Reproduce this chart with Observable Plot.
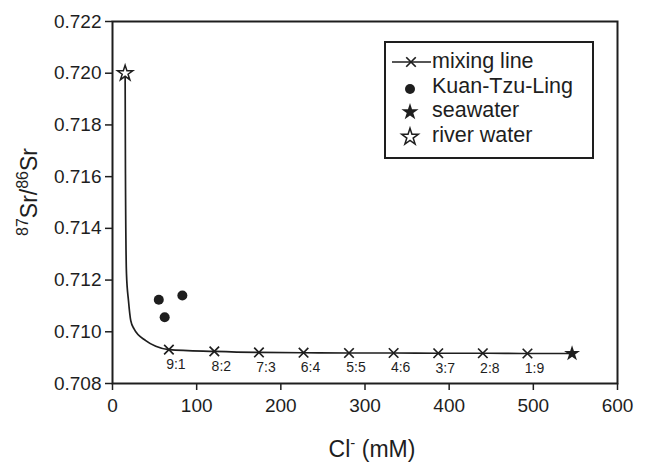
<!DOCTYPE html>
<html>
<head>
<meta charset="utf-8">
<script src="https://cdn.jsdelivr.net/npm/d3@7"></script>
<script src="https://cdn.jsdelivr.net/npm/@observablehq/plot@0.6"></script>
<style>
  html, body { margin: 0; padding: 0; background: #fff; }
  #chart { width: 649px; height: 475px; }
</style>
</head>
<body>
<div id="chart"></div>
<script>
// ---- data ----
const xTicks = [0, 100, 200, 300, 400, 500, 600];
const yTicks = [0.708, 0.710, 0.712, 0.714, 0.716, 0.718, 0.720, 0.722];

const riverCl = [15];
const riverSr = [0.72];

const seaCl = [546];
const seaSr = [0.70916];

const ktlCl = [55, 83, 62];
const ktlSr = [0.71124, 0.71140, 0.71056];

const mixLabels = ["9:1", "8:2", "7:3", "6:4", "5:5", "4:6", "3:7", "2:8", "1:9"];
const mixCl = [67, 121, 174, 227, 281, 334, 387, 440, 493];
const mixSr = [0.70931, 0.70924, 0.70920, 0.70919, 0.70918, 0.70918, 0.70917, 0.70917, 0.70916];

// traced points of the mixing curve between river water and 9:1
const curveCl = [15.4, 16.6, 19.0, 21.7, 25.6, 39.5, 51.4];
const curveSr = [0.71611, 0.71225, 0.71120, 0.71043, 0.71011, 0.70966, 0.70944];

const legendItems = ["mixing line", "Kuan-Tzu-Ling", "seawater", "river water"];

// ---- build tables ----
const toRows = (xs, ys) => xs.map((x, i) => ({x, y: ys[i]}));
const river = toRows(riverCl, riverSr);
const sea = toRows(seaCl, seaSr);
const ktl = toRows(ktlCl, ktlSr);
const mix = mixCl.map((x, i) => ({x, y: mixSr[i], label: mixLabels[i]}));
const lineData = [...river, ...toRows(curveCl, curveSr), ...mix, ...sea].sort((a, b) => a.x - b.x);

const ink = "#1e1e1e";
const font = "'Liberation Sans', Arial, Helvetica, sans-serif";

const chart = Plot.plot({
  width: 649,
  height: 475,
  marginLeft: 112,
  marginRight: 32,
  marginTop: 21,
  marginBottom: 92,
  style: {fontFamily: font, background: "#fff", color: ink},
  x: {domain: [0, 600]},
  y: {domain: [0.708, 0.722]},
  marks: [
    Plot.axisX({ticks: xTicks, tickSize: 7, tickPadding: 8, fontSize: 19, strokeWidth: 1.5, label: null}),
    Plot.axisY({ticks: yTicks, tickSize: 7, tickPadding: 4, fontSize: 19, strokeWidth: 1.5, tickFormat: d3.format(".3f"), label: null}),
    Plot.frame({stroke: ink, strokeWidth: 2}),
    Plot.line(lineData, {x: "x", y: "y", curve: "monotone-x", stroke: ink, strokeWidth: 1.7}),
    Plot.dot(mix, {x: "x", y: "y", symbol: "times", r: 4.4, stroke: ink, strokeWidth: 1.7}),
    Plot.text(mix, {x: "x", y: "y", text: "label", dx: 7, dy: 15, fontSize: 14, fill: ink}),
    Plot.dot(ktl, {x: "x", y: "y", r: 5, fill: ink, stroke: "none"}),
    Plot.dot(sea, {x: "x", y: "y", symbol: "star", r: 5, fill: ink, stroke: "none"}),
    Plot.dot(river, {x: "x", y: "y", symbol: "star", r: 4.8, fill: "#fff", stroke: ink, strokeWidth: 1.5})
  ]
});
document.getElementById("chart").appendChild(chart);

// ---- axis titles with superscripts ----
const svg = d3.select(chart);
const xl = svg.append("text")
  .attr("x", 372).attr("y", 457)
  .attr("text-anchor", "middle")
  .attr("font-family", font).attr("font-size", 23).attr("fill", ink);
xl.append("tspan").text("Cl");
xl.append("tspan").attr("font-size", 15).attr("dy", -9).text("-");
xl.append("tspan").attr("dy", 9).text(" (mM)");

const yl = svg.append("text")
  .attr("transform", "translate(37,192) rotate(-90)")
  .attr("text-anchor", "middle")
  .attr("font-family", font).attr("font-size", 23).attr("fill", ink);
yl.append("tspan").attr("font-size", 16).attr("dy", -9).text("87");
yl.append("tspan").attr("dy", 9).text("Sr/");
yl.append("tspan").attr("font-size", 16).attr("dy", -9).text("86");
yl.append("tspan").attr("dy", 9).text("Sr");

// ---- legend ----
const lg = svg.append("g");
lg.append("rect").attr("x", 385).attr("y", 42).attr("width", 208).attr("height", 116)
  .attr("fill", "#fff").attr("stroke", ink).attr("stroke-width", 2);
const rowY = legendItems.map((d, i) => 68 + i * 24.6);
legendItems.forEach((t, i) => {
  lg.append("text").attr("x", 432).attr("y", rowY[i])
    .attr("text-anchor", "start")
    .attr("font-family", font).attr("font-size", 21.5).attr("fill", ink).text(t);
});
const symSize = r => Math.PI * r * r;
lg.append("line").attr("x1", 392).attr("x2", 431).attr("y1", 62).attr("y2", 62)
  .attr("stroke", ink).attr("stroke-width", 1.7);
lg.append("path").attr("transform", "translate(411,62)")
  .attr("d", d3.symbol(d3.symbolTimes, symSize(4.4))())
  .attr("fill", "none").attr("stroke", ink).attr("stroke-width", 1.7);
lg.append("circle").attr("cx", 410).attr("cy", 89).attr("r", 5).attr("fill", ink);
lg.append("path").attr("transform", "translate(410,112)")
  .attr("d", d3.symbol(d3.symbolStar, symSize(5.4))()).attr("fill", ink);
lg.append("path").attr("transform", "translate(410,137)")
  .attr("d", d3.symbol(d3.symbolStar, symSize(5.2))())
  .attr("fill", "#fff").attr("stroke", ink).attr("stroke-width", 1.5);
</script>
</body>
</html>
